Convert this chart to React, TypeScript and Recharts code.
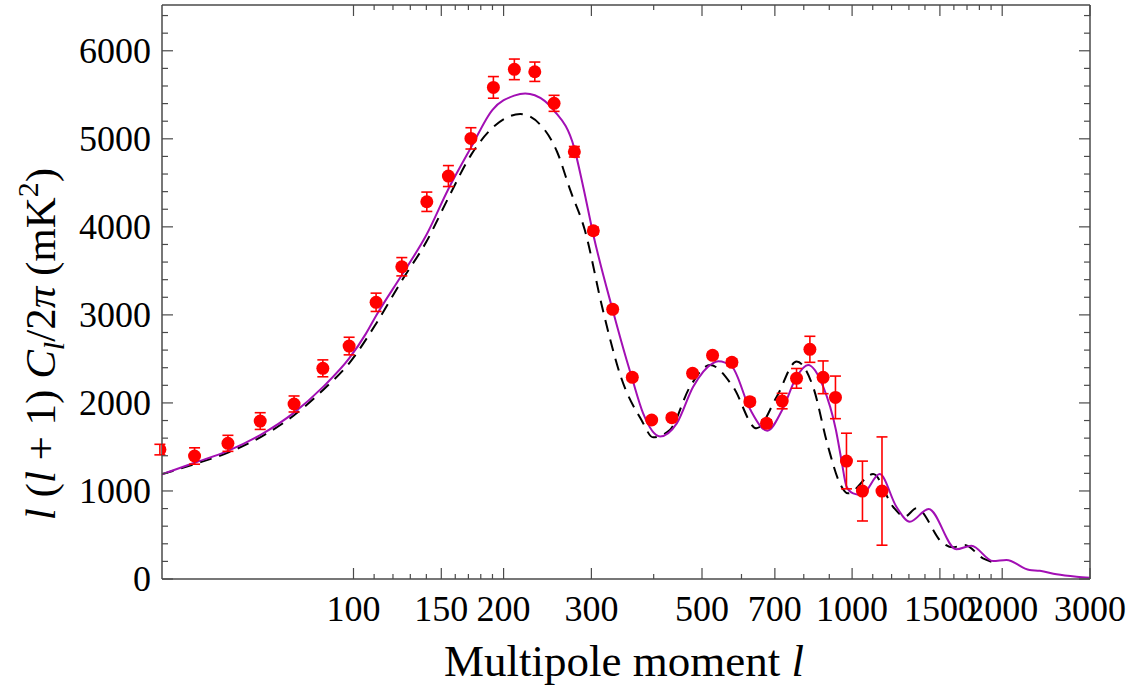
import React from 'react';
import { ComposedChart, Line, Scatter, ErrorBar, XAxis, YAxis, Label } from 'recharts';

// measured band powers (red points)
const pointL = [40.9, 48, 56, 65, 76, 86.8, 98, 111, 125, 140.3, 155, 172, 190.8, 210.2, 231, 252.5, 277.3, 302.7, 331, 362.4, 396.3, 435, 478.7, 525, 574, 623.6, 673.6, 724, 773.7, 822.9, 874.7, 926, 974.3, 1049, 1148];
const pointV = [1470, 1397, 1541, 1794, 1988, 2393, 2646, 3143, 3547, 4285, 4577, 5005, 5584, 5789, 5762, 5403, 4853, 3956, 3063, 2291, 1806, 1832, 2336, 2541, 2461, 2014, 1768, 2021, 2279, 2609, 2291, 2063, 1340, 999, 999];
const pointErr = [60, 93, 91, 95, 91, 96, 100, 104, 104, 110, 119, 121, 123, 117, 110, 91, 60, 40, 35, 35, 30, 30, 35, 35, 40, 40, 40, 88, 112, 148, 186, 242, 316, 340, 615];

// solid purple model
const modelL = [41.3, 48, 56, 65, 76, 87, 98, 106, 111, 125, 140, 155, 172, 190, 210, 221, 231, 252, 277, 289, 303, 331, 353, 362, 381, 412, 445, 480, 525, 539, 574, 624, 676, 724, 774, 816, 875, 928, 952, 975, 1005, 1045, 1136, 1227, 1305, 1424, 1618, 1735, 1917, 2039, 2270, 2380, 2570, 2820, 3000];
const modelV = [1190, 1320, 1455, 1635, 1890, 2185, 2505, 2790, 2990, 3453, 3907, 4430, 4900, 5330, 5490, 5516, 5495, 5327, 4900, 4450, 3900, 3055, 2487, 2280, 1882, 1620, 1768, 2184, 2450, 2472, 2411, 1930, 1684, 1919, 2297, 2430, 2184, 1692, 1351, 1048, 973, 954, 1192, 821, 651, 795, 337, 378, 204, 216, 102, 94, 53, 26, 15];

// dashed black model
const dashL = [41.3, 48, 56, 65, 76, 87, 98, 111, 125, 140, 155, 172, 191, 216, 242, 256, 272, 291, 316, 344, 378, 399, 431, 473, 519, 577, 643, 706, 774, 835, 895, 945, 981, 1102, 1208, 1275, 1346, 1522, 1590, 1682, 1830, 1903];
const dashV = [1190, 1305, 1435, 1610, 1860, 2150, 2450, 2900, 3390, 3830, 4330, 4815, 5137, 5281, 5099, 4853, 4420, 3964, 3066, 2291, 1806, 1609, 1692, 2184, 2430, 2184, 1711, 2070, 2470, 2184, 1503, 1087, 973, 1192, 821, 708, 803, 405, 360, 386, 235, 196];

const xMajor = [100, 150, 200, 300, 500, 700, 1000, 1500, 2000, 3000];
const xMinor = [110, 120, 130, 140, 160, 170, 180, 190, 400, 600, 800, 900, 1100, 1200, 1300, 1400, 1600, 1700, 1800, 1900];
const yMajor = [0, 1000, 2000, 3000, 4000, 5000, 6000];
const yMinor = [200, 400, 600, 800, 1200, 1400, 1600, 1800, 2200, 2400, 2600, 2800, 3200, 3400, 3600, 3800, 4200, 4400, 4600, 4800, 5200, 5400, 5600, 5800, 6200, 6400];

const xTicks = [...xMajor, ...xMinor].sort((a, b) => a - b);
const yTicks = [...yMajor, ...yMinor].sort((a, b) => a - b);

const points = pointL.map((l, i) => ({ l, v: pointV[i], err: pointErr[i] }));
const model = modelL.map((l, i) => ({ l, v: modelV[i] }));
const dashed = dashL.map((l, i) => ({ l, v: dashV[i] }));

const FONT = '"Liberation Serif", "Times New Roman", serif';
const AXIS = '#4a4a4a';
const X_DOMAIN: [number, number] = [41.3, 3000];
const Y_DOMAIN: [number, number] = [0, 6520];

function BottomTick(props: any) {
  const { x, y, payload } = props;
  const major = xMajor.includes(payload.value);
  return (
    <g>
      <line x1={x} x2={x} y1={y} y2={y - (major ? 11 : 5)} stroke={AXIS} strokeWidth={1.2} />
      {major && (
        <text x={x} y={y + 42} textAnchor="middle" fontFamily={FONT} fontSize={36} fill="#000">
          {payload.value}
        </text>
      )}
    </g>
  );
}

function TopTick(props: any) {
  const { x, y, payload } = props;
  const major = xMajor.includes(payload.value);
  return <line x1={x} x2={x} y1={y} y2={y + (major ? 11 : 5)} stroke={AXIS} strokeWidth={1.2} />;
}

function LeftTick(props: any) {
  const { x, y, payload } = props;
  const major = yMajor.includes(payload.value);
  return (
    <g>
      <line x1={x} x2={x + (major ? 11 : 6)} y1={y} y2={y} stroke={AXIS} strokeWidth={1.2} />
      {major && (
        <text x={x - 11} y={y} dy={12} textAnchor="end" fontFamily={FONT} fontSize={36} fill="#000">
          {payload.value}
        </text>
      )}
    </g>
  );
}

function RightTick(props: any) {
  const { x, y, payload } = props;
  const major = yMajor.includes(payload.value);
  return <line x1={x} x2={x - (major ? 11 : 6)} y1={y} y2={y} stroke={AXIS} strokeWidth={1.2} />;
}

const Dot = (props: any) => <circle cx={props.cx} cy={props.cy} r={6.5} fill="#ff0000" />;

export default function App() {
  return (
    <div style={{ position: 'absolute', left: 0, top: 0, background: '#fff' }}>
      <ComposedChart width={1138} height={690} margin={{ top: 4, right: 47, bottom: 0, left: 0 }}>
        <XAxis
          dataKey="l"
          type="number"
          scale="log"
          domain={X_DOMAIN}
          allowDataOverflow
          ticks={xTicks}
          interval={0}
          tickSize={0}
          tickMargin={0}
          tickLine={false}
          tick={<BottomTick />}
          height={111}
          axisLine={{ stroke: AXIS, strokeWidth: 1.5 }}
        >
          <Label
            content={() => (
              <text x={624} y={676} textAnchor="middle" fontFamily={FONT} fontSize={45} fill="#000">
                Multipole moment <tspan fontStyle="italic">l</tspan>
              </text>
            )}
          />
        </XAxis>
        <XAxis
          xAxisId="top"
          orientation="top"
          dataKey="l"
          type="number"
          scale="log"
          domain={X_DOMAIN}
          allowDataOverflow
          ticks={xTicks}
          interval={0}
          tickSize={0}
          tickMargin={0}
          tickLine={false}
          tick={<TopTick />}
          height={1}
          axisLine={{ stroke: AXIS, strokeWidth: 1.5 }}
        />
        <YAxis
          type="number"
          domain={Y_DOMAIN}
          allowDataOverflow
          ticks={yTicks}
          interval={0}
          tickSize={0}
          tickMargin={0}
          tickLine={false}
          tick={<LeftTick />}
          width={162}
          axisLine={{ stroke: AXIS, strokeWidth: 1.5 }}
        >
          <Label
            content={() => (
              <text
                x={55}
                y={344}
                transform="rotate(-90, 55, 344)"
                textAnchor="middle"
                fontFamily={FONT}
                fontSize={43}
                fill="#000"
              >
                <tspan fontStyle="italic">l</tspan>
                {' ('}
                <tspan fontStyle="italic">l</tspan>
                {' + 1) '}
                <tspan fontStyle="italic">C</tspan>
                <tspan fontStyle="italic" fontSize={30} dy={9}>l</tspan>
                <tspan dy={-9}>/2</tspan>
                <tspan fontStyle="italic">π</tspan>
                {' (mK'}
                <tspan fontSize={30} dy={-17}>2</tspan>
                <tspan dy={17}>)</tspan>
              </text>
            )}
          />
        </YAxis>
        <YAxis
          yAxisId="right"
          orientation="right"
          type="number"
          domain={Y_DOMAIN}
          allowDataOverflow
          ticks={yTicks}
          interval={0}
          tickSize={0}
          tickMargin={0}
          tickLine={false}
          tick={<RightTick />}
          width={1}
          axisLine={{ stroke: AXIS, strokeWidth: 1.5 }}
        />
        {/* invisible series so the mirrored frame axes get drawn */}
        <Line
          xAxisId="top"
          yAxisId="right"
          data={model}
          dataKey="v"
          stroke="none"
          dot={false}
          activeDot={false}
          legendType="none"
          isAnimationActive={false}
        />
        <Line
          data={dashed}
          dataKey="v"
          type="monotone"
          stroke="#000"
          strokeWidth={2}
          strokeDasharray="12 8"
          dot={false}
          isAnimationActive={false}
        />
        <Line
          data={model}
          dataKey="v"
          type="monotone"
          stroke="#a20fb4"
          strokeWidth={2}
          dot={false}
          isAnimationActive={false}
        />
        <Scatter data={points} dataKey="v" shape={<Dot />} isAnimationActive={false}>
          <ErrorBar dataKey="err" direction="y" width={5.5} stroke="#ff0000" strokeWidth={1.6} />
        </Scatter>
      </ComposedChart>
    </div>
  );
}
